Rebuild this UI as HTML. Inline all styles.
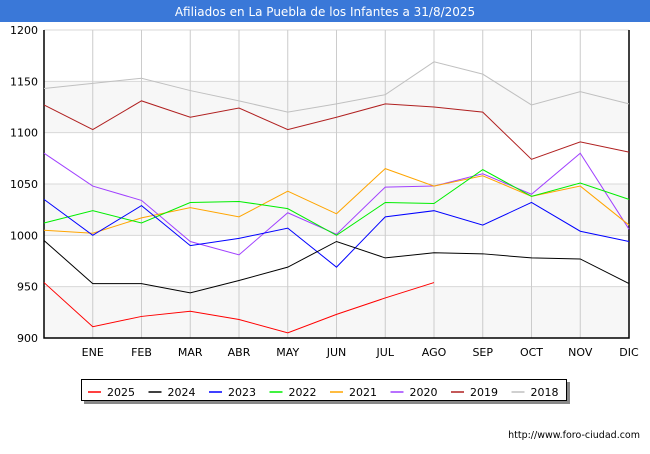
<!DOCTYPE html>
<html><head><meta charset="utf-8"><style>
body{margin:0;background:#fff;font-family:"DejaVu Sans","Liberation Sans",sans-serif}
</style></head><body>
<svg width="650" height="450" xmlns="http://www.w3.org/2000/svg" id="c" font-family="DejaVu Sans, Liberation Sans, sans-serif">
<rect x="0" y="0" width="650" height="22" fill="#3a78d8"/>
<text x="325" y="16" text-anchor="middle" fill="#fff" font-size="12">Afiliados en La Puebla de los Infantes a 31/8/2025</text>
<g id="grid"></g><g id="series"></g>
<text x="640" y="438" text-anchor="end" font-size="9.5" fill="#000">http://www.foro-ciudad.com</text>
<g id="legend"></g>
</svg>
<script>
const months=["","ENE","FEB","MAR","ABR","MAY","JUN","JUL","AGO","SEP","OCT","NOV","DIC"];
const yTicks=[900,950,1000,1050,1100,1150,1200];
const names=["2025","2024","2023","2022","2021","2020","2019","2018"];
const colors=["#ff0000","#000000","#0000ff","#00ee00","#ffa500","#a040ff","#b02020","#c0c0c0"];
const s2025=[954,911,921,926,918,905,923,939,954];
const s2024=[995,953,953,944,956,969,994,978,983,982,978,977,953];
const s2023=[1035,1000,1029,990,997,1007,969,1018,1024,1010,1032,1004,994];
const s2022=[1012,1024,1012,1032,1033,1026,1000,1032,1031,1064,1038,1051,1035];
const s2021=[1005,1002,1017,1027,1018,1043,1021,1065,1048,1058,1038,1048,1010];
const s2020=[1080,1048,1034,994,981,1022,1001,1047,1048,1060,1040,1080,1006];
const s2019=[1127,1103,1131,1115,1124,1103,1115,1128,1125,1120,1074,1091,1081];
const s2018=[1143,1148,1153,1141,1131,1120,1128,1137,1169,1157,1127,1140,1128];
const series=[s2025,s2024,s2023,s2022,s2021,s2020,s2019,s2018];
const X0=44,X1=629,Y0=30,Y1=338;
const xs=i=>X0+i*(X1-X0)/12;
const ys=v=>Y1-(v-900)*(Y1-Y0)/300;
const NS="http://www.w3.org/2000/svg";
function mk(t,a,p){const e=document.createElementNS(NS,t);for(const k in a)e.setAttribute(k,a[k]);p.appendChild(e);return e;}
const g=document.getElementById('grid');
for(let i=0;i<yTicks.length-1;i+=2){
 const r=mk('rect',{x:X0,y:ys(yTicks[i+1]),width:X1-X0,height:ys(yTicks[i])-ys(yTicks[i+1]),fill:'#f7f7f7'},g);
 
 
}
yTicks.forEach(v=>{
 const l=mk('line',{x1:X0,x2:X1,y1:ys(v),y2:ys(v),stroke:'#d8d8d8'},g);
 
 
 const t=mk('text',{x:38,y:ys(v)+4,'text-anchor':'end','font-size':'11',fill:'#000'},g);t.textContent=v;
 
 
});
months.forEach((m,i)=>{
 if(i>0){const l=mk('line',{x1:xs(i),x2:xs(i),y1:Y0,y2:Y1,stroke:'#cccccc'},g);
 
 }
 const t=mk('text',{x:xs(i),y:356,'text-anchor':'middle','font-size':'11',fill:'#000'},g);t.textContent=m;
 
 
});
const ax=mk('path',{d:`M${X0} ${Y0}V${Y1}H${X1}V${Y0}`,fill:'none',stroke:'#000','stroke-width':1.5},g);


const sg=document.getElementById('series');
for(let k=series.length-1;k>=0;k--){
 const p=mk('polyline',{points:series[k].map((v,i)=>xs(i)+','+ys(v)).join(' '),fill:'none',stroke:colors[k],'stroke-width':1},sg);
 
 
}
const lg=document.getElementById('legend');
const sh=mk('rect',{x:84,y:382,width:486,height:22,fill:'#888'},lg);


const bx=mk('rect',{x:81.5,y:379.5,width:485,height:21,fill:'#fff',stroke:'#000'},lg);


names.forEach((n,k)=>{
 const x=88+k*60.5;
 const l=mk('line',{x1:x,x2:x+13,y1:392,y2:392,stroke:colors[k],'stroke-width':1.5},lg);
 
 
 const t=mk('text',{x:x+19,y:396,'font-size':'11',fill:'#000'},lg);t.textContent=n;
 
 
});
</script>
</body></html>
